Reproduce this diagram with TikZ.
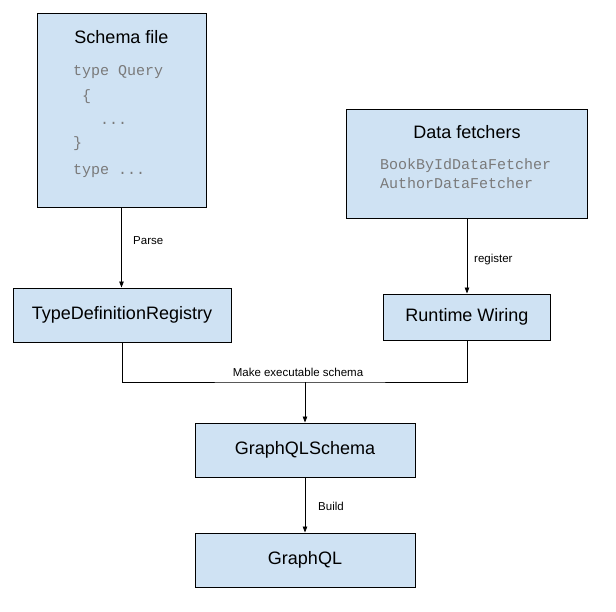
\documentclass[tikz,border=0pt]{standalone}
\usepackage{fontspec}
\setmainfont{Liberation Sans}
\setmonofont{Liberation Mono}
\usetikzlibrary{arrows.meta}
\definecolor{boxblue}{HTML}{CFE2F3}
\definecolor{codegray}{HTML}{7A7A7A}

\begin{document}
\begin{tikzpicture}[x=1pt, y=-1pt,
  box/.style={draw, line width=1pt, fill=boxblue, inner sep=0pt, font=\fontsize{18}{20}\selectfont},
  boxtitle/.style={anchor=base, inner sep=0pt, font=\fontsize{18}{20}\selectfont},
  code/.style={anchor=base west, inner sep=0pt, text=codegray, font=\ttfamily\fontsize{15}{18}\selectfont},
  lbl/.style={inner sep=0pt, font=\fontsize{11.5}{13}\selectfont},
  conn/.style={-{Triangle[length=6pt,width=4.5pt]}, line width=0.8pt}]
\useasboundingbox (0,0) rectangle (616,611);
% boxes
\node[box, minimum width=169pt, minimum height=194pt] (schema) at (121.5,110) {};
\node[box, minimum width=241pt, minimum height=109pt] (data) at (467,163.5) {};
\node[box, minimum width=218pt, minimum height=54pt] (tdr) at (122,315) {TypeDefinitionRegistry};
\node[box, minimum width=167pt, minimum height=46pt] (rw) at (467,317) {Runtime Wiring};
\node[box, minimum width=220pt, minimum height=54pt] (gqls) at (305,450) {GraphQLSchema};
\node[box, minimum width=220pt, minimum height=54pt] (gql) at (305,560) {GraphQL};
% schema file contents
\node[boxtitle] (schematitle) at (121.5,43) {Schema file};
\node[code] (q1) at (73,75) {type Query};
\node[code] (q2) at (82,100) {\{};
\node[code] (q3) at (100,124) {...};
\node[code] (q4) at (73,147) {\}};
\node[code] (q5) at (73,174) {type ...};
% data fetchers contents
\node[boxtitle] (datatitle) at (467,138) {Data fetchers};
\node[code] (f1) at (380,169) {BookByIdDataFetcher};
\node[code] (f2) at (380,188) {AuthorDataFetcher};
% connectors
\coordinate (join) at (305,382);
\draw[conn] (schema.south) -- (schema.south |- tdr.north);
\draw[conn] (data.south) -- (data.south |- rw.north);
\draw[line width=0.8pt] (tdr.south) |- (join) -| (rw.south);
\draw[conn] (join) -- (gqls.north);
\draw[conn] (gqls) -- (gql);
% labels
\node[lbl, anchor=west] (parse) at (133,241) {Parse};
\node[lbl, anchor=west] (register) at (474,260) {register};
\node[lbl] (make) at (298,372) {Make executable schema};
\node[lbl, anchor=west] (build) at (318,506) {Build};
\end{tikzpicture}
\end{document}
